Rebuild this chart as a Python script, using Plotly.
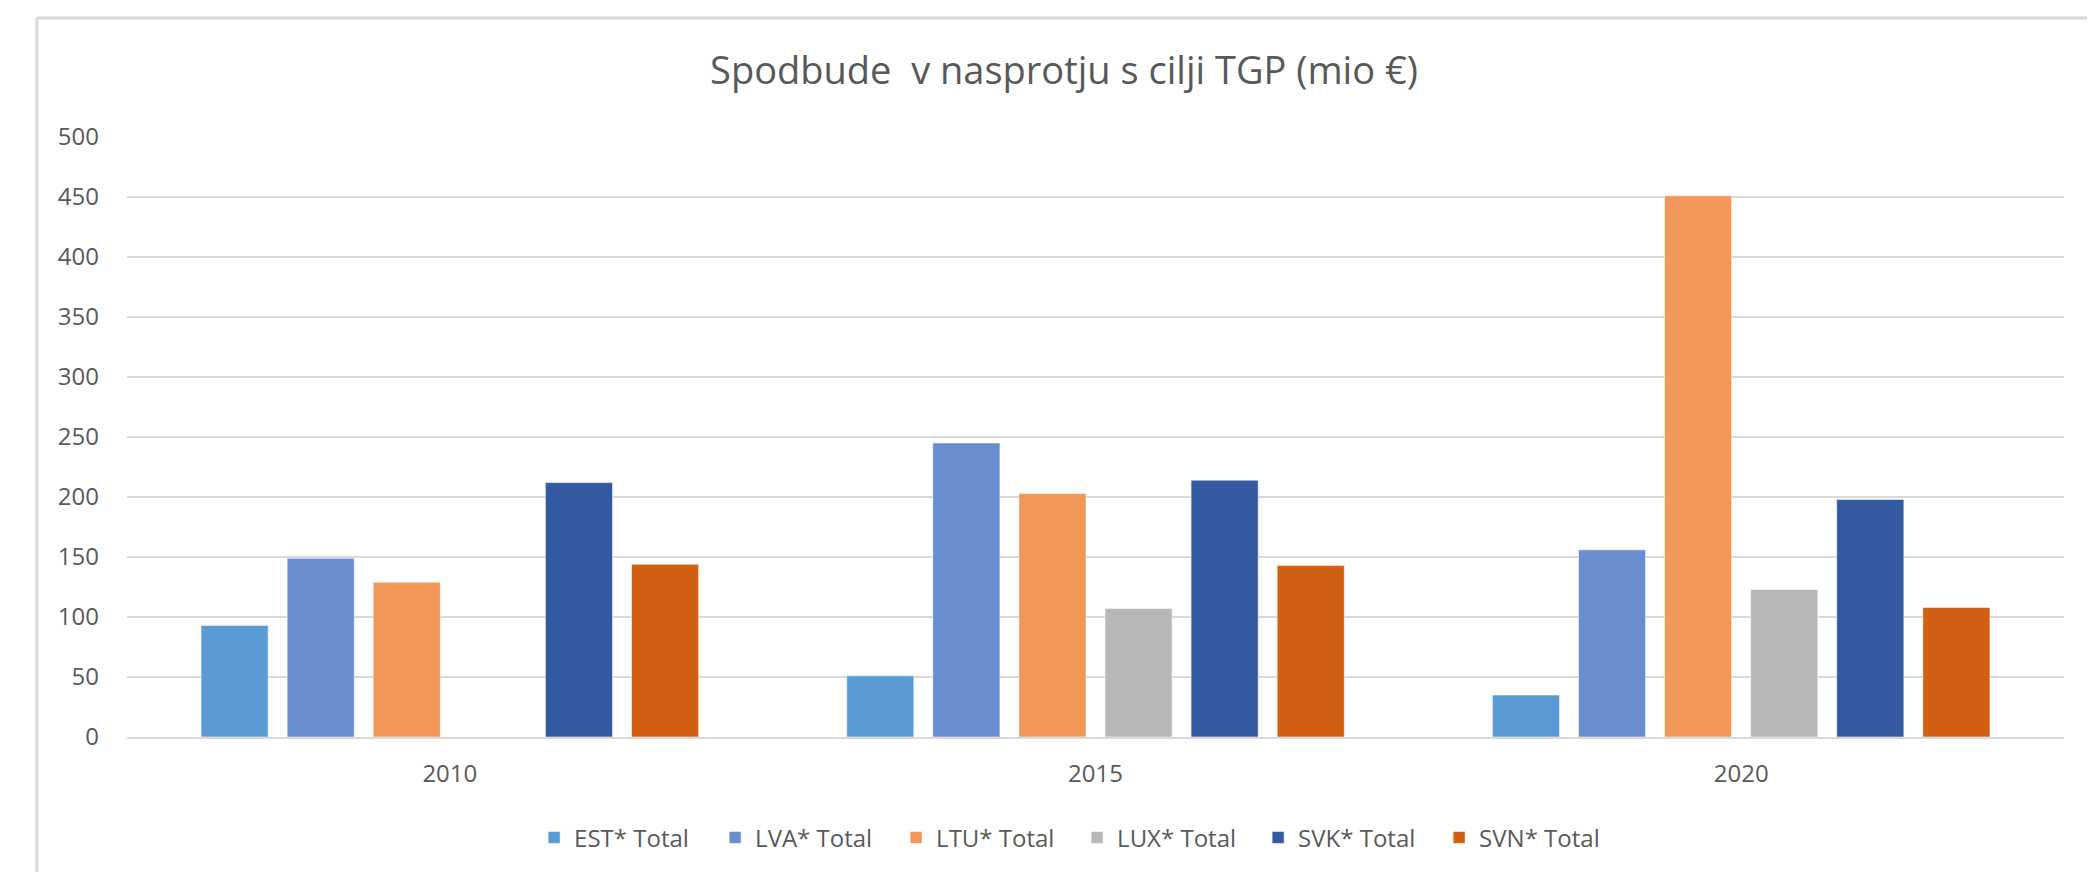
import plotly.graph_objects as go

years = ["2010", "2015", "2020"]
series_names = ["EST* Total", "LVA* Total", "LTU* Total", "LUX* Total", "SVK* Total", "SVN* Total"]
est = [93, 51, 35]
lva = [149, 245, 156]
ltu = [129, 203, 451]
lux = [None, 107, 123]
svk = [212, 214, 198]
svn = [144, 143, 108]
colors = ["#5B9BD5", "#698ED0", "#F1975A", "#B7B7B7", "#335AA1", "#D26012"]
y_ticks = [0, 50, 100, 150, 200, 250, 300, 350, 400, 450, 500]

all_values = [est, lva, ltu, lux, svk, svn]

fig = go.Figure()
for name, vals, col in zip(series_names, all_values, colors):
    fig.add_trace(go.Bar(
        x=years, y=vals, name=name,
        marker=dict(color=col, line=dict(color="rgba(255,255,255,0.55)", width=1)),
    ))

FONT = "Open Sans, Segoe UI, sans-serif"
GRAY = "#595959"

W, H = 2087, 864  # page body has an 8px offset in the browser
fig.update_layout(
    width=W, height=H,
    paper_bgcolor="white", plot_bgcolor="white",
    margin=dict(l=119, r=31, t=129, b=135),
    barmode="group", bargap=0.2, bargroupgap=0.22,
    title=dict(text="Spodbude  v nasprotju s cilji TGP (mio €)",
               x=1056 / W, xanchor="center", xref="container",
               y=1 - 63 / H, yanchor="middle", yref="container",
               font=dict(family=FONT, size=38, color=GRAY)),
    font=dict(family=FONT, size=24, color=GRAY),
    legend=dict(orientation="h", x=0.4905, xanchor="center", y=-0.168, yanchor="middle",
                font=dict(family=FONT, size=24, color=GRAY),
                itemwidth=30, traceorder="normal",
                entrywidth=136, entrywidthmode="pixels"),
    showlegend=True,
)
fig.update_yaxes(range=[0, 500], tickvals=y_ticks, showgrid=True, gridcolor="#D9D9D9",
                 gridwidth=2, zeroline=False, showline=False, ticks="",
                 ticklabelstandoff=27, tickfont=dict(family=FONT, size=24, color=GRAY))
fig.update_xaxes(showline=True, linecolor="#D9D9D9", linewidth=2, ticks="",
                 ticklabelstandoff=14, tickfont=dict(family=FONT, size=24, color=GRAY))

# light chart frame (top and left edges)
fig.add_shape(type="line", xref="paper", yref="paper", x0=-0.0465, x1=1.02, y0=1.1985, y1=1.1985,
              line=dict(color="#D9D9D9", width=3))
fig.add_shape(type="line", xref="paper", yref="paper", x0=-0.0465, x1=-0.0465, y0=1.1985, y1=-0.24,
              line=dict(color="#D9D9D9", width=3))

fig.write_html("out.html")
